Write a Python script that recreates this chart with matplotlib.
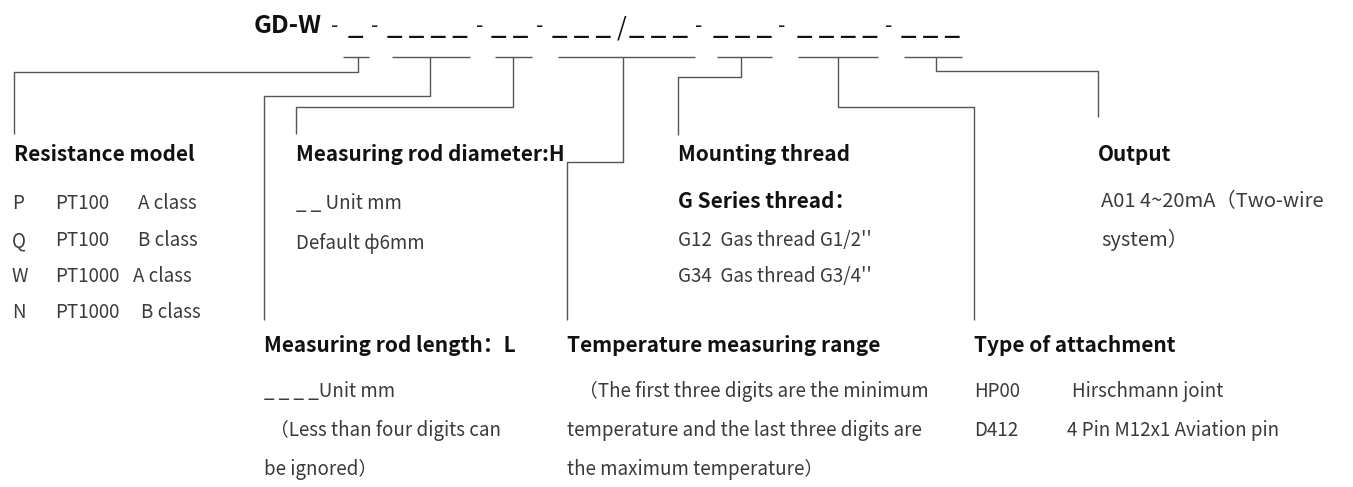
import matplotlib.pyplot as plt

plt.rcParams['font.family'] = ['Noto Sans CJK SC', 'DejaVu Sans']

W, H = 1353, 487

# --- model code string: GD-W - _ - _ _ _ _ - _ _ - _ _ _ /_ _ _ - _ _ _ - _ _ _ _ - _ _ _
code_prefix = 'GD-W'
slot_groups = ['_', '_ _ _ _', '_ _', '_ _ _', '_ _ _', '_ _ _', '_ _ _ _', '_ _ _']
separators = ['-', '-', '-', '-', '/', '-', '-', '-']

# --- short bars under the code and the connectors hanging from them ---
bar_spans = [(343, 369), (392, 470), (495, 532), (558, 695), (717, 772), (798, 878), (904, 962)]
bar_tap = [358, 430, 513, 623, 741, 838, 936]
elbow_y = [72, 96, 107, 162, 77, 107, 71]
label_x = [14, 264, 296, 567, 678, 974, 1098]
leg_end = [134, 320, 134, 320, 135, 320, 117]

# --- field titles ---
titles = ['Resistance model', 'Measuring rod length\uff1aL', 'Measuring rod diameter:H',
          'Temperature measuring range', 'Mounting thread', 'Type of attachment', 'Output']
title_row = [0, 1, 0, 1, 0, 1, 0]

# --- field contents ---
res_codes = ['P', 'Q', 'W', 'N']
res_sensors = ['PT100', 'PT100', 'PT1000', 'PT1000']
res_grades = ['A class', 'B class', 'A class', 'B class']

diam_lines = ['_ _ Unit mm', 'Default \u04446mm']
length_lines = ['_ _ _ _Unit mm', '\uff08Less than four digits can', 'be ignored\uff09']
temp_lines = ['\uff08The first three digits are the minimum',
              'temperature and the last three digits are',
              'the maximum temperature\uff09']
thread_head = 'G Series thread\uff1a'
thread_lines = ["G12  Gas thread G1/2''", "G34  Gas thread G3/4''"]
attach_codes = ['HP00', 'D412']
attach_desc = ['Hirschmann joint', '4 Pin M12x1 Aviation pin']
output_lines = ['A01 4~20mA\uff08Two-wire', 'system\uff09']

fig = plt.figure(figsize=(W / 100, H / 100), dpi=100)
ax = fig.add_axes([0, 0, 1, 1])
ax.set_xlim(0, W)
ax.set_ylim(H, 0)
ax.axis('off')

line_kw = dict(color='#555555', lw=1.0, solid_capstyle='butt')
head_kw = dict(fontsize=15, fontweight='bold', color='#111111', va='baseline', ha='left')
body_kw = dict(fontsize=13.5, color='#3a3a3a', va='baseline', ha='left')

# code line
ax.text(254, 33, code_prefix, fontsize=18, fontweight='bold', color='#111111', va='baseline')
slot_x = [348, 387, 491, 552, 629, 713, 797, 901]
sep_x = [335, 374.5, 479.5, 539.5, 621.5, 698.5, 781.5, 889]
for g, x in zip(slot_groups, slot_x):
    ax.text(x, 34, g, fontsize=20, color='#111111', va='baseline', ha='left')
for s, x in zip(separators, sep_x):
    if s == '/':
        ax.text(x, 35, s, fontsize=18, color='#111111', va='baseline', ha='center')
    else:
        ax.text(x, 32, s, fontsize=15, color='#222222', va='baseline', ha='center')

# bars and connectors
for (x0, x1), tx, ey, lx, le in zip(bar_spans, bar_tap, elbow_y, label_x, leg_end):
    ax.plot([x0, x1], [57, 57], **line_kw)
    ax.plot([tx, tx, lx, lx], [57, ey, ey, le], **line_kw)

head_base = [161, 352]
for t, lx, r in zip(titles, label_x, title_row):
    ax.text(lx, head_base[r], t, **head_kw)

top_rows = [209, 246, 282, 318]
low_rows = [397, 436, 475]

grade_x = [138, 138, 133, 141]
for c, s, g, y, gx in zip(res_codes, res_sensors, res_grades, top_rows, grade_x):
    ax.text(12, y, c, **body_kw)
    ax.text(55, y, s, **body_kw)
    ax.text(gx, y, g, **body_kw)

for t, y in zip(diam_lines, [209, 249]):
    ax.text(296, y, t, **body_kw)

for t, y, dx in zip(length_lines, low_rows, [0, 6, 0]):
    ax.text(264 + dx, y, t, **body_kw)

for t, y, dx in zip(temp_lines, low_rows, [12, 0, 0]):
    ax.text(567 + dx, y, t, **body_kw)

ax.text(678, 208, thread_head, **head_kw)
for t, y in zip(thread_lines, top_rows[1:3]):
    ax.text(678, y, t, **body_kw)

for c, d, y, dx in zip(attach_codes, attach_desc, low_rows[:2], [1072, 1067]):
    ax.text(974, y, c, **body_kw)
    ax.text(dx, y, d, **body_kw)

out_kw = dict(body_kw, fontsize=14.5)
for t, y in zip(output_lines, [207, 246]):
    ax.text(1101, y, t, **out_kw)

fig.savefig('out.png', dpi=100)
